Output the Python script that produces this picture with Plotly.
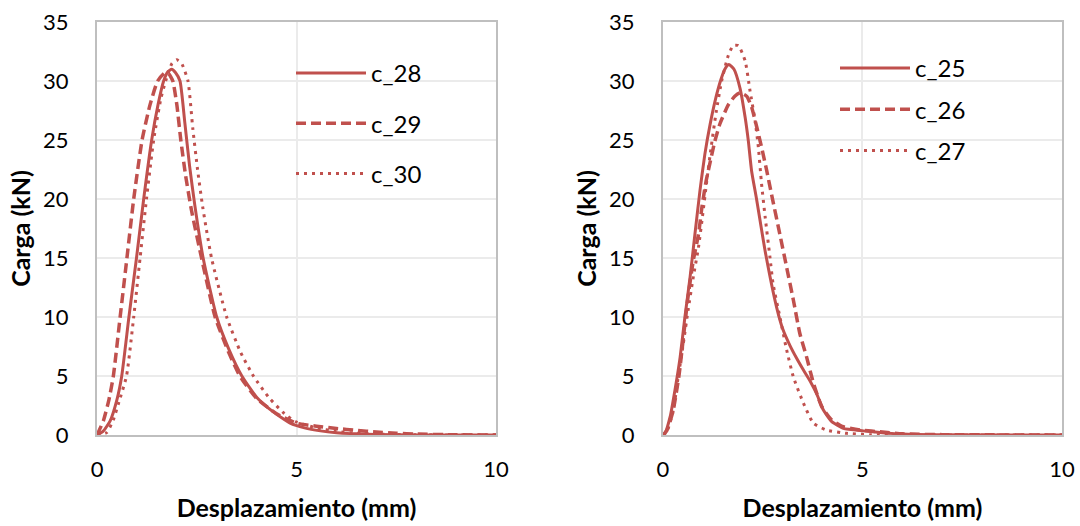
import plotly.graph_objects as go

# Load–displacement curves, left panel (c_28, c_29, c_30)
x_c28 = [0, 0.15, 0.33, 0.5, 0.62, 0.80, 0.99, 1.17, 1.37, 1.53, 1.67, 1.78, 1.87, 1.97, 2.08, 2.20, 2.32,
         2.45, 2.66, 3.0, 3.3, 3.63, 4.0, 4.4, 4.84, 5.2, 5.6, 6.0, 6.5, 7.0, 8.0, 10.0]
y_c28 = [0, 0.3, 1.2, 3.0, 5.0, 10.0, 15.0, 20.0, 25.0, 28.0, 30.0, 30.8, 31.0, 30.7, 30.0, 26.5, 22.8,
         19.5, 15.0, 10.0, 7.3, 5.0, 3.2, 2.0, 1.0, 0.6, 0.35, 0.2, 0.1, 0.05, 0, 0]

x_c29 = [0, 0.16, 0.3, 0.41, 0.58, 0.75, 0.92, 1.13, 1.33, 1.52, 1.70, 1.80, 1.90, 2.0, 2.10, 2.22, 2.37, 2.62,
         2.96, 3.3, 3.58, 4.0, 4.5, 5.0, 5.5, 6.0, 6.5, 7.0, 7.5, 8.0, 9.0, 10.0]
y_c29 = [0, 1.2, 3.0, 5.0, 10.0, 15.0, 20.0, 25.0, 28.0, 30.0, 30.7, 30.6, 30.0, 28.0, 25.0, 22.0, 19.0, 15.0,
         10.0, 7.0, 5.0, 3.1, 1.8, 1.0, 0.75, 0.55, 0.4, 0.25, 0.15, 0.08, 0.02, 0]

x_c30 = [0, 0.24, 0.4, 0.55, 0.74, 0.92, 1.08, 1.24, 1.42, 1.60, 1.72, 1.88, 2.0, 2.12, 2.28, 2.40, 2.52,
         2.65, 2.87, 3.25, 3.6, 3.92, 4.3, 4.7, 5.0, 5.5, 6.0, 6.5, 7.0, 8.0, 10.0]
y_c30 = [0, 0.2, 1.2, 2.8, 5.0, 10.0, 15.0, 20.0, 25.0, 28.5, 30.0, 31.5, 31.8, 31.5, 30.0, 26.0, 22.5,
         19.3, 15.0, 10.0, 7.0, 5.0, 3.2, 1.8, 1.1, 0.6, 0.3, 0.15, 0.07, 0.02, 0]

# Right panel (c_25, c_26, c_27)
x_c25 = [0, 0.05, 0.18, 0.30, 0.43, 0.55, 0.68, 0.80, 0.93, 1.05, 1.18, 1.32, 1.45, 1.55, 1.65, 1.78, 1.93, 2.06,
         2.14, 2.22, 2.35, 2.56, 2.85, 3.0, 3.18, 3.35, 3.52, 3.70, 3.85, 4.02, 4.23, 4.52, 5.02, 5.5, 6.0, 7.0, 10.0]
y_c25 = [0, 0.14, 1.55, 3.8, 6.6, 10.0, 13.4, 17.0, 20.8, 23.8, 26.3, 28.5, 30.1, 31.0, 31.4, 31.0, 29.4, 26.9,
         24.9, 22.4, 19.9, 15.6, 10.8, 9.0, 7.6, 6.5, 5.5, 4.5, 3.5, 2.11, 1.13, 0.56, 0.35, 0.2, 0.08, 0.02, 0]

x_c26 = [0, 0.1, 0.25, 0.4, 0.52, 0.62, 0.76, 0.89, 0.98, 1.08, 1.20, 1.30, 1.43, 1.64, 1.80, 1.93, 2.10, 2.22,
         2.35, 2.47, 2.60, 2.72, 2.93, 3.10, 3.27, 3.43, 3.60, 3.77, 3.98, 4.23, 4.52, 4.94, 5.5, 6.0, 7.0, 10.0]
y_c26 = [0, 0.4, 2.0, 5.0, 8.5, 11.5, 14.8, 17.0, 19.4, 21.5, 23.4, 24.9, 26.4, 28.0, 28.7, 29.0, 28.7, 27.8,
         26.1, 24.4, 22.4, 20.4, 17.0, 14.2, 11.4, 8.6, 6.6, 4.4, 2.4, 1.27, 0.7, 0.42, 0.25, 0.1, 0.03, 0]

x_c27 = [0, 0.1, 0.26, 0.38, 0.51, 0.63, 0.76, 0.89, 1.0, 1.1, 1.2, 1.33, 1.47, 1.64, 1.76, 1.89, 2.06, 2.18,
         2.31, 2.39, 2.47, 2.56, 2.68, 2.76, 2.93, 3.10, 3.27, 3.52, 3.77, 4.10, 4.60, 5.2, 10.0]
y_c27 = [0, 0.3, 2.1, 4.9, 7.75, 10.6, 13.4, 15.9, 18.8, 21.6, 24.2, 27.3, 30.0, 32.2, 33.0, 33.0, 31.7, 29.2,
         26.6, 24.4, 21.3, 18.5, 15.1, 12.8, 10.0, 7.2, 4.9, 2.7, 1.0, 0.42, 0.14, 0.02, 0]

x_ticks = [0, 5, 10]
y_ticks = [0, 5, 10, 15, 20, 25, 30, 35]

RED = "#C0504D"
FONT = "Lato"
solid = dict(color=RED, width=3)
dashed = dict(color=RED, width=3.5, dash="10px,5px")
dotted = dict(color=RED, width=3, dash="3px,5px")

fig = go.Figure()
left = [("c_28", x_c28, y_c28, solid), ("c_29", x_c29, y_c29, dashed), ("c_30", x_c30, y_c30, dotted)]
right = [("c_25", x_c25, y_c25, solid), ("c_26", x_c26, y_c26, dashed), ("c_27", x_c27, y_c27, dotted)]

for name, xs, ys, ln in left:
    fig.add_trace(go.Scatter(x=xs, y=ys, name=name, mode="lines", line=dict(shape="spline", smoothing=0.5, **ln),
                             xaxis="x", yaxis="y", legend="legend", legendgroup=name))
for name, xs, ys, ln in right:
    fig.add_trace(go.Scatter(x=xs, y=ys, name=name, mode="lines", line=dict(shape="spline", smoothing=0.5, **ln),
                             xaxis="x2", yaxis="y2", legend="legend2", legendgroup=name))

axis_common = dict(
    showline=True, linecolor="#BFBFBF", linewidth=2, mirror=True,
    showgrid=True, gridcolor="#EBEBEB", gridwidth=1.5, zeroline=False, automargin=False,
    ticks="", tickfont=dict(family=FONT, size=22, color="#000000"),
)
xax = dict(axis_common, range=[0, 10], tickvals=x_ticks, ticklabelstandoff=14,
           title=dict(text="<b>Desplazamiento (mm)</b>", font=dict(family=FONT, size=25, color="#000000"), standoff=18))
yax = dict(axis_common, range=[0, 35], tickvals=y_ticks, ticklabelstandoff=22,
           title=dict(text="<b>Carga (kN)</b>", font=dict(family=FONT, size=25, color="#000000"), standoff=5))

legend_common = dict(font=dict(family=FONT, size=24, color="#000000"), bgcolor="rgba(0,0,0,0)",
                     itemwidth=70, yanchor="top", xanchor="left")

fig.update_layout(
    width=1080, height=526,
    margin=dict(l=97, r=18, t=22, b=91, autoexpand=False),
    paper_bgcolor="white", plot_bgcolor="white",
    showlegend=True,
    xaxis=dict(xax, domain=[0, 0.4135], anchor="y"),
    yaxis=dict(yax, anchor="x"),
    xaxis2=dict(xax, domain=[0.5865, 1.0], anchor="y2"),
    yaxis2=dict(yax, anchor="x2"),
    legend=dict(legend_common, x=(291 - 97) / 965, y=1 - (51 - 22) / 413, tracegroupgap=16),
    legend2=dict(legend_common, x=(835 - 97) / 965, y=1 - (46 - 22) / 413, tracegroupgap=7),
)

fig.write_html("out.html")
